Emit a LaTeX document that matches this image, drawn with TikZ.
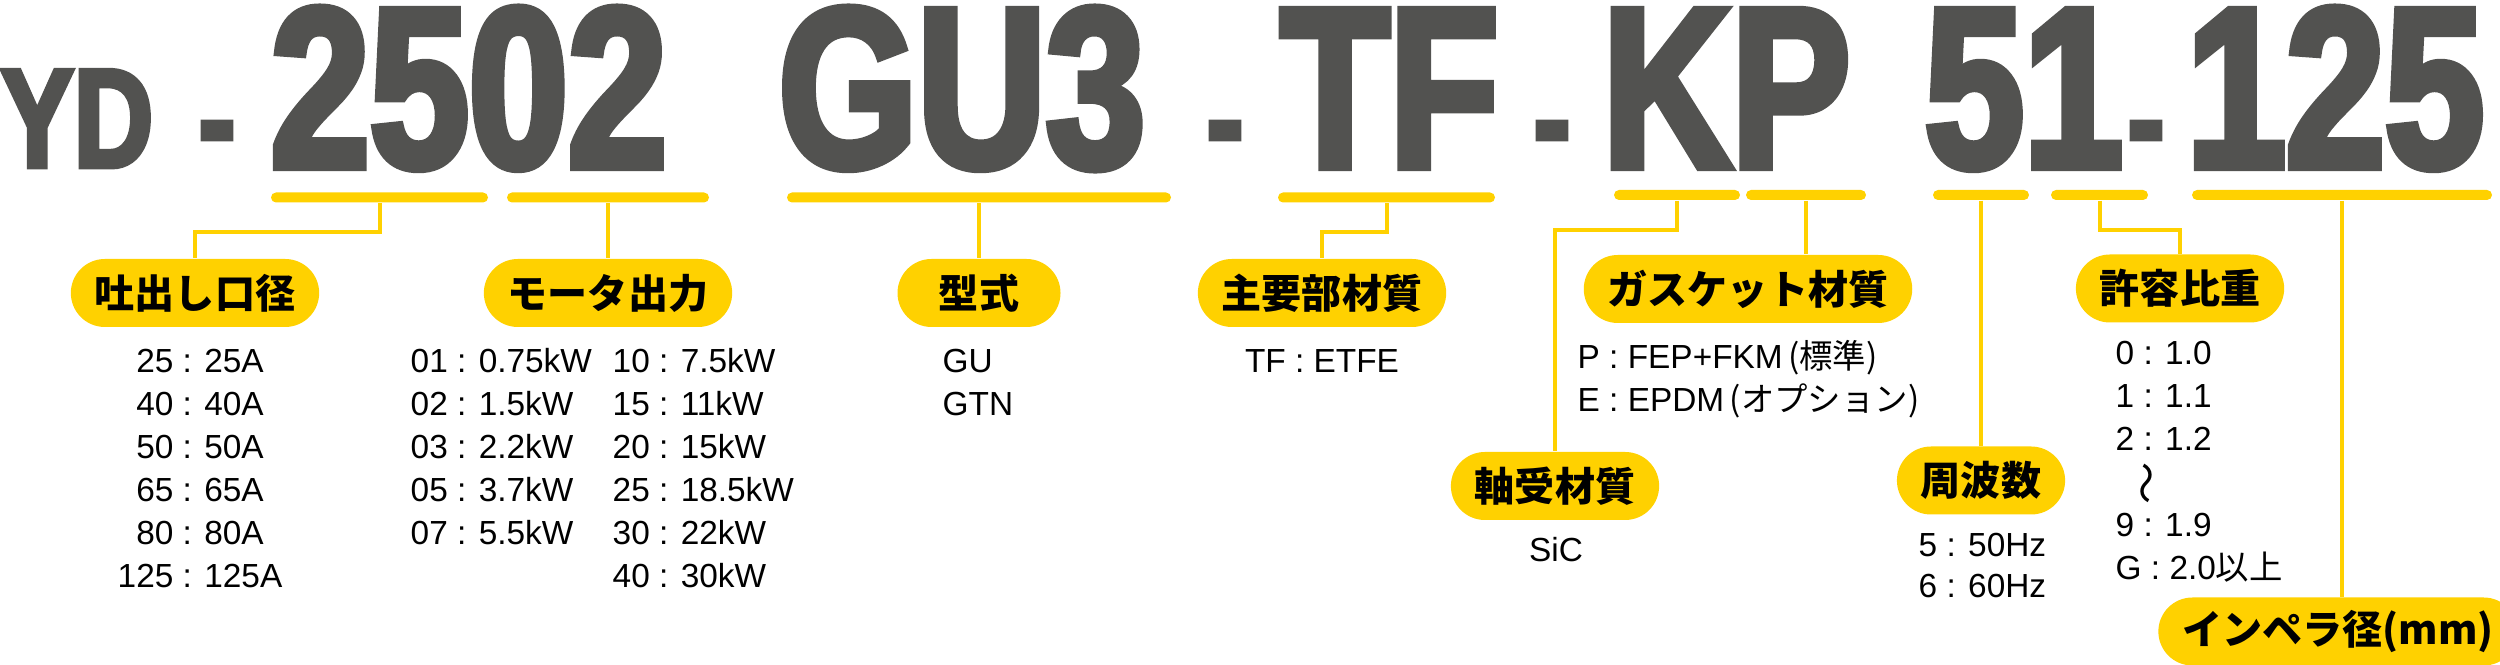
\documentclass[tikz,border=0pt]{standalone}
\usepackage{fontspec}
\usepackage{tikz}
\usetikzlibrary{positioning}
\setmainfont{Liberation Sans}
\newfontfamily\codefont{Liberation Sans}[FakeStretch=0.78,FakeBold=3.5]
\newfontfamily\jpfont{Noto Sans CJK JP}
\definecolor{cMark}{RGB}{255,209,0}
\definecolor{cCode}{RGB}{82,82,80}

\begin{document}
\begin{tikzpicture}[font=\fontsize{9.5}{11}\selectfont]
\useasboundingbox (0,0) rectangle (25,-6.65);

%% ── shared styles ─────────────────────────────────────────────────────────
\tikzset{
  code/.style={
    anchor=base west, inner sep=0pt, text=cCode,
    text height=1.62cm, text depth=0pt,
    font=\codefont\bfseries\fontsize{65}{65}\selectfont
  },
  codeS/.style={code, text height=1.0cm,
    font=\codefont\bfseries\fontsize{40}{40}\selectfont},
  bar/.style={
    rectangle, rounded corners=0.05cm, fill=cMark, inner sep=0pt,
    minimum height=0.10cm, minimum width=#1
  },
  pill/.style={
    rectangle, rounded corners=0.34cm, fill=cMark,
    inner xsep=0.24cm, inner ysep=0pt,
    minimum height=0.68cm, minimum width=1.63cm,
    font=\jpfont\bfseries\fontsize{11.4}{12}\selectfont
  },
  link/.style={cMark, line width=0.04cm},
  val/.style ={anchor=base west, inner sep=0pt},
  valc/.style={anchor=base, inner sep=0pt},
}

%% ── baseline y of the value rows ──────────────────────────────────────────
\def\rA{-3.73}
\def\rB{-4.16}
\def\rC{-4.59}
\def\rD{-5.02}
\def\rE{-5.45}
\def\rF{-5.88}

%% ══════════════════════════════════════════════════════════════════════════
%% MODEL CODE
%% ══════════════════════════════════════════════════════════════════════════
\node[codeS] (nYD)   at ( 0.00,-1.67) {YD};
\node[codeS] (h1)    at ( 1.98,-1.67) {-};
\node[code]  (n2502) at ( 2.70,-1.67) {2502};
\node[code]  (nGU3)  at ( 7.78,-1.67) {GU3};
\node[codeS] (h2)    at (12.06,-1.67) {-};
\node[code]  (nTF)   at (12.80,-1.67) {TF};
\node[codeS] (h3)    at (15.33,-1.67) {-};
\node[code]  (nKP)   at (16.02,-1.67) {KP};
\node[code]  (n51)   at (19.24,-1.67) {51};
\node[codeS] (h4)    at (21.27,-1.67) {-};
\node[code]  (n125)  at (21.86,-1.67) {125};

%% ── underline bars ────────────────────────────────────────────────────────
\node[bar=2.17cm] (uSize)   at ( 3.795,-1.975) {};
\node[bar=2.02cm] (uPower)  at ( 6.08, -1.975) {};
\node[bar=3.84cm] (uType)   at ( 9.79, -1.975) {};
\node[bar=2.17cm] (uBody)   at (13.865,-1.975) {};
\node[bar=1.26cm] (uShaft)  at (16.77, -1.95) {};
\node[bar=1.20cm] (uGasket) at (18.06, -1.95) {};
\node[bar=0.96cm] (uFreq)   at (19.81, -1.95) {};
\node[bar=0.97cm] (uGrav)   at (20.995,-1.95) {};
\node[bar=3.00cm] (uImp)    at (23.42, -1.95) {};

%% ── label pills ───────────────────────────────────────────────────────────
\node[pill] (pSize)   at ( 1.95,-2.93)  {吐出し口径};
\node[pill] (pPower)  at ( 6.08,-2.93)  {モータ出力};
\node[pill] (pType)   at ( 9.79,-2.93)  {型式};
\node[pill] (pBody)   at (13.22,-2.93)  {主要部材質};
\node[pill] (pGasket) at (17.48,-2.89)  {ガスケット材質};
\node[pill] (pGrav)   at (21.80,-2.885) {許容比重};
\node[pill] (pShaft)  at (15.55,-4.86)  {軸受材質};
\node[pill] (pFreq)   at (19.81,-4.805) {周波数};
\node[pill] (pImp)    at (23.38,-6.315) {インペラ径(mm)};

%% ── connectors ────────────────────────────────────────────────────────────
\draw[link] (uSize.south)  -- ++(0,-0.29) -| (pSize.north);
\draw[link] (uPower.south) -- (pPower.north);
\draw[link] (uType.south)  -- (pType.north);
\draw[link] (uBody.south)  -- ++(0,-0.29) -| (pBody.north);
\draw[link] (uShaft.south) -- ++(0,-0.29) -| (pShaft.north);
\draw[link] (uGasket.south) -- (uGasket.south |- pGasket.north);
\draw[link] (uFreq.south)  -- (pFreq.north);
\draw[link] (uGrav.south)  -- ++(0,-0.29) -| (pGrav.north);
\draw[link] (uImp.south)   -- (uImp.south |- pImp.north);

%% ══════════════════════════════════════════════════════════════════════════
%% VALUES
%% ══════════════════════════════════════════════════════════════════════════
% discharge bore
\node[valc] (vS1) at (2.00,\rA) {25 : 25A};
\node[valc] (vS2) at (2.00,\rB) {40 : 40A};
\node[valc] (vS3) at (2.00,\rC) {50 : 50A};
\node[valc] (vS4) at (2.00,\rD) {65 : 65A};
\node[valc] (vS5) at (2.00,\rE) {80 : 80A};
\node[valc] (vS6) at (2.00,\rF) {125 : 125A};

% motor output
\node[val] (vP1) at (4.10,\rA) {01 : 0.75kW};
\node[val] (vP2) at (4.10,\rB) {02 : 1.5kW};
\node[val] (vP3) at (4.10,\rC) {03 : 2.2kW};
\node[val] (vP4) at (4.10,\rD) {05 : 3.7kW};
\node[val] (vP5) at (4.10,\rE) {07 : 5.5kW};
\node[val] (vQ1) at (6.12,\rA) {10 : 7.5kW};
\node[val] (vQ2) at (6.12,\rB) {15 : 11kW};
\node[val] (vQ3) at (6.12,\rC) {20 : 15kW};
\node[val] (vQ4) at (6.12,\rD) {25 : 18.5kW};
\node[val] (vQ5) at (6.12,\rE) {30 : 22kW};
\node[val] (vQ6) at (6.12,\rF) {40 : 30kW};

% type
\node[val] (vT1) at (9.42,\rA) {GU};
\node[val] (vT2) at (9.42,\rB) {GTN};

% body material
\node[valc] (vB1) at (13.22,\rA) {TF : ETFE};

% gasket material
\node[val] (vG1) at (15.77,-3.69) {P : FEP+FKM\,{\jpfont (標準)}};
\node[val] (vG2) at (15.77,-4.12) {E : EPDM\,{\jpfont (オプション)}};

% bearing material
\node[valc] (vB2) at (15.56,-5.62) {SiC};

% frequency
\node[val] (vF1) at (19.18,-5.57) {5 : 50Hz};
\node[val] (vF2) at (19.18,-5.98) {6 : 60Hz};

% specific gravity
\node[val] (vR1) at (21.15,-3.65) {0 : 1.0};
\node[val] (vR2) at (21.15,-4.08) {1 : 1.1};
\node[val] (vR3) at (21.15,-4.51) {2 : 1.2};
\node[rotate=90, inner sep=0pt, font=\jpfont\fontsize{12}{12}\selectfont]
  (vR4) at (21.52,-4.83) {〜};
\node[val] (vR5) at (21.15,-5.37) {9 : 1.9};
\node[val] (vR6) at (21.15,-5.80) {G : 2.0{\jpfont 以上}};

\end{tikzpicture}
\end{document}
